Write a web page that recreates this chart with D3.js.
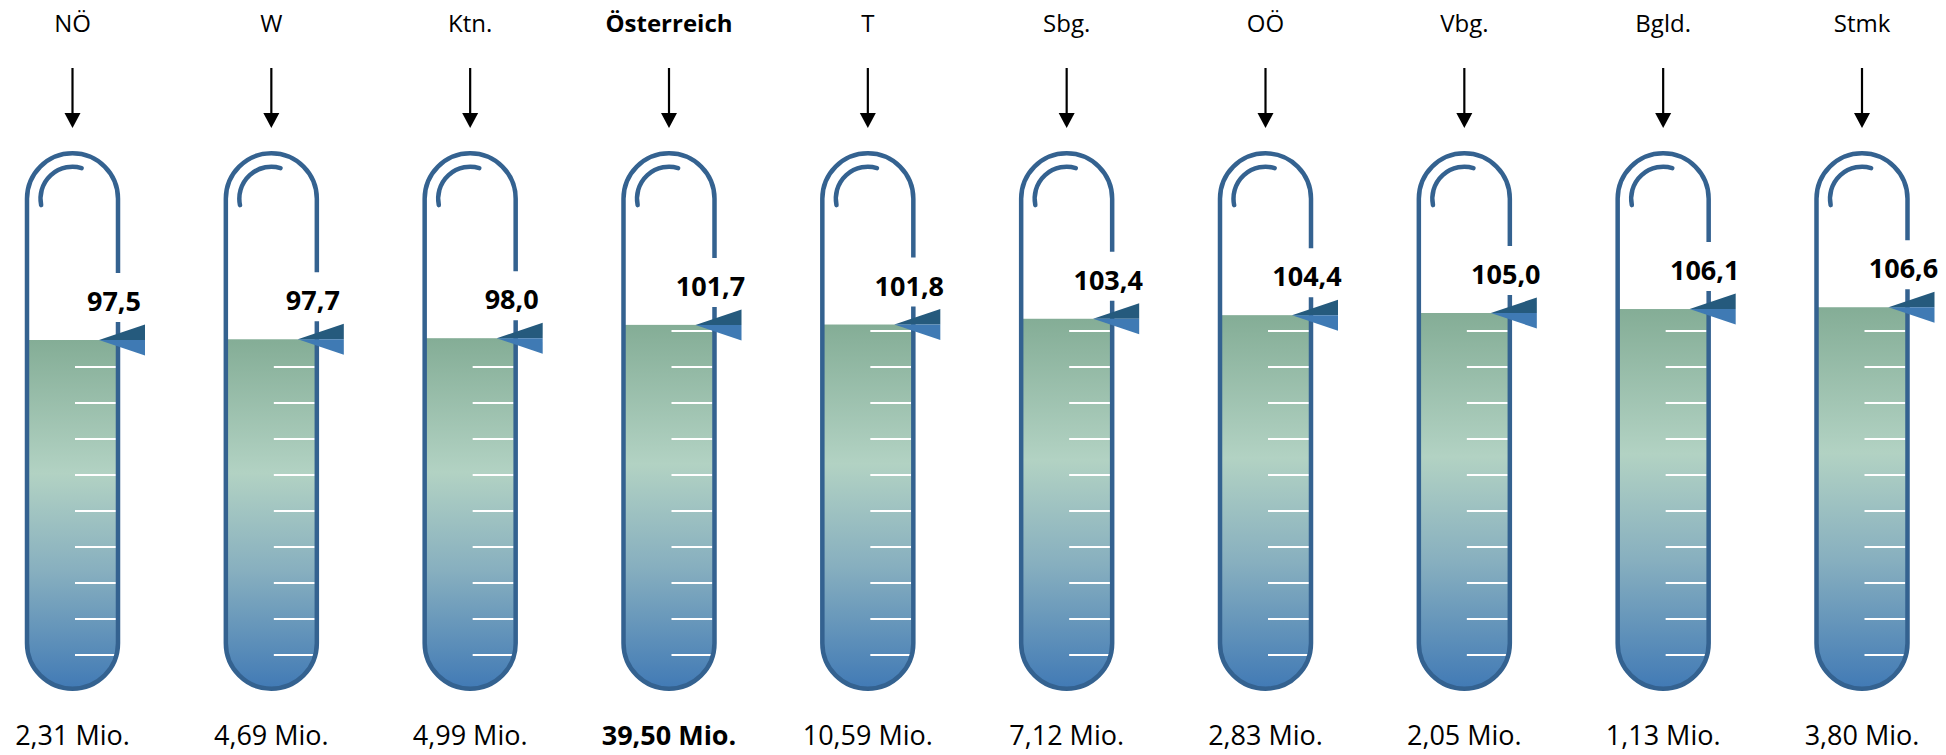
<!DOCTYPE html>
<html>
<head>
<meta charset="utf-8">
<script src="https://cdn.jsdelivr.net/npm/d3@7"></script>
<style>
  html, body { margin: 0; padding: 0; background: #ffffff; }
  svg { display: block; }
  text { font-family: "Open Sans", "DejaVu Sans", sans-serif; }
</style>
</head>
<body>
<div id="chart"></div>
<script>
// ---- data ----
const categories = ["NÖ", "W", "Ktn.", "Österreich", "T", "Sbg.", "OÖ", "Vbg.", "Bgld.", "Stmk"];
const values = [97.5, 97.7, 98.0, 101.7, 101.8, 103.4, 104.4, 105.0, 106.1, 106.6];
const populationLabels = ["2,31 Mio.", "4,69 Mio.", "4,99 Mio.", "39,50 Mio.", "10,59 Mio.", "7,12 Mio.", "2,83 Mio.", "2,05 Mio.", "1,13 Mio.", "3,80 Mio."];
const scaleTicks = [10, 20, 30, 40, 50, 60, 70, 80, 90, 100, 110, 120, 130, 140];
const highlighted = "Österreich";

// ---- layout ----
const W = 1946, H = 755;
const tubeTop = 151, tubeBottom = 691;
const sw = 4.5;          // tube stroke width
const r = 45.5;          // tube centre-line radius

const svg = d3.select("#chart").append("svg")
  .attr("width", W).attr("height", H)
  .attr("viewBox", `0 0 ${W} ${H}`);

const x = d3.scalePoint().domain(categories).range([72.5, 1862]);
const y = d3.scaleLinear().domain([0, 150]).range([tubeBottom, tubeTop]);

const fmt = v => d3.format(".1f")(v).replace(".", ",");

const defs = svg.append("defs");
const grad = defs.append("linearGradient")
  .attr("id", "liquid").attr("x1", 0).attr("y1", 0).attr("x2", 0).attr("y2", 1);
[[0, "#84ad96"], [0.38, "#b2d2c3"], [0.66, "#87afbf"], [1, "#4079b5"]].forEach(([o, c]) =>
  grad.append("stop").attr("offset", o).attr("stop-color", c));

const data = categories.map((c, i) => ({ c, v: values[i], pop: populationLabels[i], i }));

const g = svg.selectAll("g.thermo").data(data).join("g").attr("class", "thermo");

g.each(function(d) {
  const sel = d3.select(this);
  const cx = x(d.c);
  const xl = cx - r, xr = cx + r;
  const cyTop = tubeTop + sw / 2 + r;
  const cyBot = tubeBottom - sw / 2 - r;
  const ly = y(d.v);

  // clip = tube interior
  const clipId = "clip" + d.i;
  const cp = d3.path();
  cp.moveTo(xr, cyTop);
  cp.arc(cx, cyTop, r, 0, -Math.PI, true);
  cp.lineTo(xl, cyBot);
  cp.arc(cx, cyBot, r, Math.PI, 0, true);
  cp.closePath();
  defs.append("clipPath").attr("id", clipId).append("path").attr("d", cp.toString());

  const inner = sel.append("g").attr("clip-path", `url(#${clipId})`);
  inner.append("rect")
    .attr("x", xl - 5).attr("y", ly)
    .attr("width", 2 * r + 10).attr("height", tubeBottom - ly)
    .attr("fill", "url(#liquid)");

  inner.selectAll("line.tick")
    .data(scaleTicks.filter(t => t < d.v))
    .join("line").attr("class", "tick")
    .attr("x1", cx + 2.5).attr("x2", xr - 2)
    .attr("y1", t => y(t)).attr("y2", t => y(t))
    .attr("stroke", "#ffffff").attr("stroke-width", 2);

  // outline with gap for label
  const gapTop = ly - 67, gapBottom = ly - 18;
  const op = d3.path();
  op.moveTo(xr, gapTop);
  op.lineTo(xr, cyTop);
  op.arc(cx, cyTop, r, 0, -Math.PI, true);
  op.lineTo(xl, cyBot);
  op.arc(cx, cyBot, r, Math.PI, 0, true);
  op.lineTo(xr, gapBottom);
  sel.append("path").attr("d", op.toString())
    .attr("fill", "none").attr("stroke", "#346290").attr("stroke-width", sw);

  // highlight arc
  const hp = d3.path();
  const a0 = 168.5 * Math.PI / 180, a1 = 286.6 * Math.PI / 180;
  hp.moveTo(cx + 32 * Math.cos(a0), cyTop + 32 * Math.sin(a0));
  hp.arc(cx, cyTop, 32, a0, a1, false);
  sel.append("path").attr("d", hp.toString())
    .attr("fill", "none").attr("stroke", "#346290").attr("stroke-width", 4.5)
    .attr("stroke-linecap", "round");

  // pointer
  const tipX = xr - 19, baseX = xr + 27, hh = 15.5;
  sel.append("path")
    .attr("d", `M${tipX},${ly} L${baseX},${ly - hh} L${baseX},${ly} Z`)
    .attr("fill", "#255a7d");
  sel.append("path")
    .attr("d", `M${tipX},${ly} L${baseX},${ly} L${baseX},${ly + hh} Z`)
    .attr("fill", "#3f7ab4");

  // value label
  sel.append("text")
    .attr("x", xr - 4).attr("y", ly - 29)
    .attr("text-anchor", "middle")
    .attr("font-size", 27).attr("font-weight", 700)
    .attr("fill", "#000")
    .text(fmt(d.v));

  // category label + arrow
  sel.append("text")
    .attr("x", cx).attr("y", 32)
    .attr("text-anchor", "middle")
    .attr("font-size", 24)
    .attr("font-weight", d.c === highlighted ? 700 : 400)
    .attr("fill", "#000")
    .text(d.c);
  sel.append("line")
    .attr("x1", cx).attr("x2", cx).attr("y1", 68).attr("y2", 115)
    .attr("stroke", "#000").attr("stroke-width", 2.2);
  sel.append("path")
    .attr("d", `M${cx - 8},${113} L${cx + 8},${113} L${cx},${128} Z`)
    .attr("fill", "#000");

  // population label
  sel.append("text")
    .attr("x", cx).attr("y", 745)
    .attr("text-anchor", "middle")
    .attr("font-size", 27)
    .attr("font-weight", d.c === highlighted ? 700 : 400)
    .attr("fill", "#000")
    .text(d.pop);
});
</script>
</body>
</html>
